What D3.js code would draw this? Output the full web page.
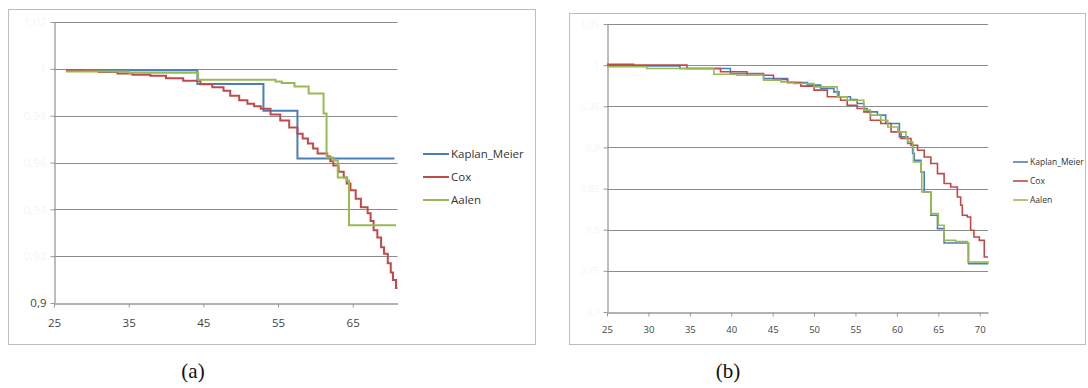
<!DOCTYPE html>
<html><head><meta charset="utf-8">
<script src="https://cdn.jsdelivr.net/npm/d3@7"></script>
<style>body{margin:0;background:#fff}svg{display:block}</style>
</head><body>
<svg id="c" width="1088" height="388"></svg>
<script>
const seriesNames = ["Kaplan_Meier", "Cox", "Aalen"];
const seriesColors = ["#4a7ebb", "#be4b48", "#98b954"];

// Panel (a) data: [age, survival]
const aKaplanMeier = [[26.6,0.9994],[44.2,0.9935],[53.05,0.9821],[57.6,0.9617],[70.6,0.9617]];
const aCox = [[26.6,0.9994],[29,0.9991],[31,0.9987],[33.5,0.998],[35.5,0.9975],[37.9,0.997],[40,0.996],[42.3,0.9949],[44.6,0.9934],[46.2,0.9921],[47.7,0.9906],[48.6,0.9885],[49.8,0.9866],[50.9,0.9851],[51.8,0.984],[52.7,0.983],[54,0.9805],[55.3,0.9779],[56.5,0.975],[57.6,0.9723],[58.3,0.9702],[59.0,0.9681],[59.7,0.966],[60.3,0.9638],[61.6,0.9626],[62.0,0.9605],[62.4,0.9587],[63.1,0.956],[63.8,0.9536],[64.2,0.951],[64.7,0.9481],[65.4,0.9445],[66.1,0.9409],[67.0,0.9383],[67.4,0.935],[67.8,0.9311],[68.3,0.928],[68.8,0.9238],[69.2,0.921],[69.7,0.917],[70.1,0.913],[70.4,0.9098],[70.8,0.9064],[71.0,0.9064]];
const aAalen = [[26.6,0.9989],[35,0.9983],[44.3,0.9953],[54.66,0.9946],[55.5,0.9939],[57.2,0.9925],[59.1,0.9895],[61.1,0.9809],[61.5,0.9621],[62.4,0.9609],[63,0.9536],[64.2,0.9523],[64.5,0.9332],[70.8,0.9332]];

// Panel (b) data
const bKaplanMeier = [[25,0.9991],[33.8,0.996],[39.9,0.9899],[43.9,0.9838],[46.8,0.9789],[49.2,0.9757],[50.8,0.9716],[52.4,0.9675],[53.0,0.9615],[54.4,0.9582],[55.2,0.9534],[56.0,0.9473],[56.4,0.9432],[57.65,0.9392],[58.65,0.9291],[60.3,0.9128],[61.3,0.9047],[61.9,0.8926],[62.1,0.8844],[62.9,0.8702],[63.3,0.8459],[64.1,0.8175],[64.9,0.8013],[65.7,0.7838],[68.65,0.7588],[71.0,0.7588]];
const bCox = [[25,1.0009],[28.2,1.0],[34.65,0.996],[38.7,0.9919],[41.9,0.9878],[45.1,0.9826],[46.8,0.9789],[48.4,0.9745],[50.0,0.9696],[51.6,0.9615],[53.2,0.9574],[54.0,0.9513],[55.2,0.9473],[56.0,0.9432],[56.8,0.9331],[58.05,0.9291],[59.3,0.9189],[60.5,0.9108],[61.7,0.9027],[62.5,0.8966],[63.3,0.8884],[64.1,0.8804],[64.9,0.8682],[65.7,0.8561],[66.5,0.852],[67.3,0.8398],[67.7,0.8297],[67.9,0.8175],[68.5,0.8155],[68.9,0.7993],[69.3,0.7911],[69.95,0.7871],[70.55,0.7668],[71.0,0.7668]];
const bAalen = [[25,0.998],[29.8,0.996],[37.9,0.989],[40.7,0.9878],[43.9,0.9818],[46.0,0.9797],[47.55,0.9777],[50.0,0.9736],[52.8,0.9615],[54.0,0.9574],[56.0,0.9453],[56.8,0.9392],[58.05,0.9331],[58.9,0.9249],[60.1,0.9189],[61.1,0.9108],[61.3,0.9067],[61.9,0.9006],[62.0,0.8824],[62.9,0.8702],[63.0,0.8459],[64.1,0.8196],[65.0,0.8054],[65.7,0.7871],[67.1,0.7855],[68.5,0.7838],[68.6,0.7607],[71.0,0.758]];

const xTicksA = [25, 35, 45, 55, 65];
const yTicksA = [0.9, 0.92, 0.94, 0.96, 0.98, 1.0, 1.02];
const xTicksB = [25, 30, 35, 40, 45, 50, 55, 60, 65, 70];
const yTicksB = [0.7, 0.75, 0.8, 0.85, 0.9, 0.95, 1.0, 1.05];
const captions = ["(a)", "(b)"];

const svg = d3.select("#c");
const fmt = v => String(+v.toFixed(2)).replace(".", ",");

function panel(cfg) {
  const g = svg.append("g");
  g.append("rect").attr("x", cfg.box[0] + 0.5).attr("y", cfg.box[1] + 0.5)
    .attr("width", cfg.box[2]).attr("height", cfg.box[3])
    .attr("fill", "none").attr("stroke", "#bdbdbd").attr("stroke-width", 1);
  const x = d3.scaleLinear().domain(cfg.xDomain).range(cfg.xRange);
  const y = d3.scaleLinear().domain(cfg.yDomain).range(cfg.yRange);
  g.append("g").selectAll("line").data(cfg.yTicks.slice(1)).join("line")
    .attr("x1", cfg.xRange[0]).attr("x2", cfg.xRange[1])
    .attr("y1", d => Math.round(y(d)) + 0.5).attr("y2", d => Math.round(y(d)) + 0.5)
    .attr("stroke", "#8c8c8c").attr("stroke-width", 1);
  const xa = g.append("g").attr("transform", `translate(0,${Math.round(cfg.yRange[0]) + 0.5})`)
    .call(d3.axisBottom(x).tickValues(cfg.xTicks).tickSize(4).tickSizeOuter(0).tickPadding(cfg.xPad));
  const ya = g.append("g").attr("transform", `translate(${Math.round(cfg.xRange[0]) + 0.5},0)`)
    .call(d3.axisLeft(y).tickValues(cfg.yTicks).tickSize(4).tickSizeOuter(0).tickFormat(fmt).tickPadding(4));
  [xa, ya].forEach(a => {
    a.select(".domain").attr("stroke", "#9a9a9a").attr("stroke-width", 1.3);
    a.selectAll(".tick line").attr("stroke", "#9a9a9a");
    a.selectAll("text").attr("font-family", "Open Sans, sans-serif").attr("font-size", cfg.fs).attr("fill", "#444");
  });
  ya.selectAll(".tick text").attr("fill", (d, i) => (cfg.showBottom && i === 0) ? "#444" : "#f6f6ee");
  const line = d3.line().x(d => x(d[0])).y(d => y(d[1])).curve(d3.curveStepAfter);
  cfg.series.forEach((s, i) => {
    g.append("path").datum(s).attr("d", line).attr("fill", "none")
      .attr("stroke", seriesColors[i]).attr("stroke-width", cfg.lw).attr("stroke-linejoin", "miter");
  });
  const lg = g.append("g");
  seriesNames.forEach((n, i) => {
    const yy = cfg.legY + i * cfg.legDy;
    lg.append("line").attr("x1", cfg.legX).attr("x2", cfg.legX + cfg.legLen)
      .attr("y1", yy).attr("y2", yy).attr("stroke", seriesColors[i]).attr("stroke-width", cfg.lw);
    lg.append("text").attr("x", cfg.legX + cfg.legLen + 2).attr("y", yy).attr("dy", "0.35em")
      .attr("font-family", "Open Sans, sans-serif").attr("font-size", cfg.legFs).attr("fill", "#333").text(n);
  });
  svg.append("text").attr("x", cfg.capX).attr("y", 378).attr("text-anchor", "middle")
    .attr("font-family", "Liberation Serif, serif").attr("font-size", 21).attr("fill", "#111").text(cfg.cap);
}

panel({
  box: [8, 9, 527, 335], xDomain: [25, 71], xRange: [54, 397.5], yDomain: [0.9, 1.02], yRange: [303, 22],
  xTicks: xTicksA, yTicks: yTicksA, fs: 11.5, xPad: 11, showBottom: true, lw: 2,
  series: [aKaplanMeier, aCox, aAalen],
  legX: 423, legLen: 26, legY: 154, legDy: 23, legFs: 11.5, capX: 193, cap: captions[0]
});
panel({
  box: [569, 13, 516, 331], xDomain: [25, 71], xRange: [607, 988], yDomain: [0.7, 1.05], yRange: [312, 24],
  xTicks: xTicksB, yTicks: yTicksB, fs: 9.5, xPad: 10, showBottom: false, lw: 1.6,
  series: [bKaplanMeier, bCox, bAalen],
  legX: 1013, legLen: 15, legY: 162, legDy: 19, legFs: 8.5, capX: 728, cap: captions[1]
});
</script>
</body></html>
